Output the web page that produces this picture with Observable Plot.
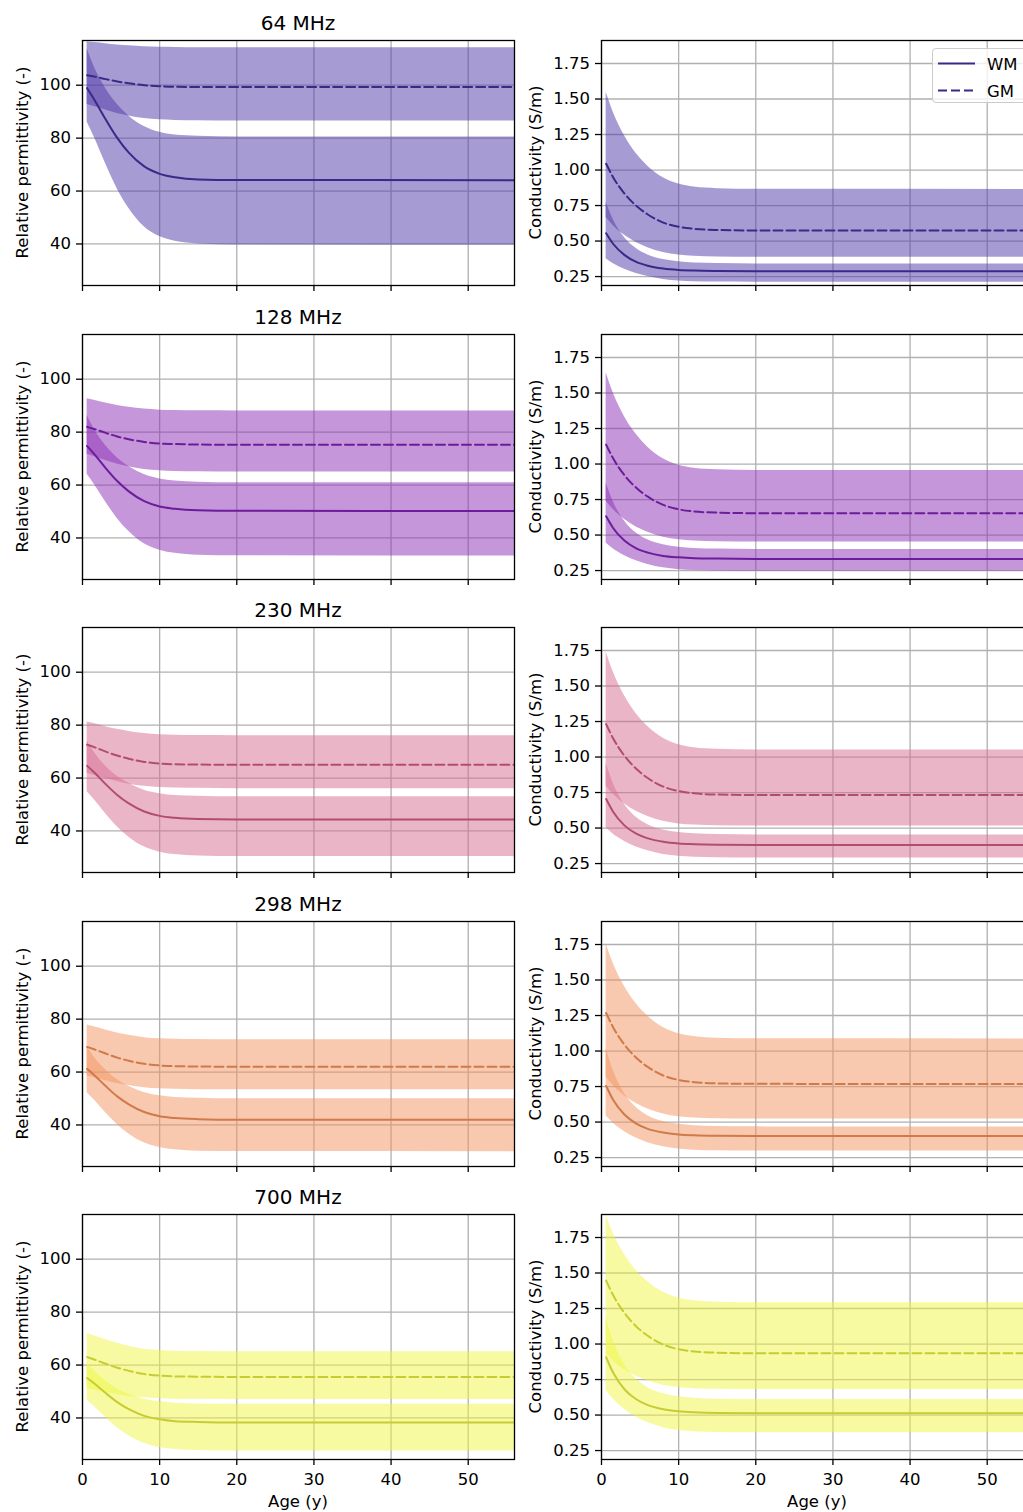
<!DOCTYPE html>
<html><head><meta charset="utf-8">
<script src="https://cdn.jsdelivr.net/npm/d3@7"></script>
<script src="https://cdn.jsdelivr.net/npm/@observablehq/plot@0.6"></script>
<style>
html,body{margin:0;padding:0;background:#fff;overflow:hidden;width:1023px;height:1512px;}
#fig{position:relative;width:1023px;height:1512px;overflow:hidden;font-family:"DejaVu Sans",sans-serif;}
.panel{position:absolute;width:526px;}
.panel svg{overflow:visible;max-width:none !important;}
#legend{position:absolute;left:932px;top:48px;width:120px;height:55px;border:1px solid #cccccc;border-radius:4px;background:rgba(255,255,255,0.8);box-sizing:border-box;}
</style></head><body><div id="fig"></div><script>
// ---------- data ----------
const ages = [0.6, 1.5, 3, 4.5, 6, 8, 10, 12, 15, 20, 56];
const freqs = ["64 MHz", "128 MHz", "230 MHz", "298 MHz", "700 MHz"];
const xTicks = [0, 10, 20, 30, 40, 50];
const permTicks = [40, 60, 80, 100];
const condTicks = [0.25, 0.5, 0.75, 1.0, 1.25, 1.5, 1.75];
const fillColors = ["#4d37a7", "#8b2db5", "#d76b91", "#f1935d", "#eff541"];
const lineColors = ["#3a2a88", "#6c1d9c", "#b24d72", "#cf7a4b", "#c8cc33"];

// Relative permittivity
const perm64WM   = [98.9, 94.7, 87.1, 80.1, 74.5, 69.3, 66.5, 65.2, 64.4, 64.2, 64.1];
const perm64WMlo = [86.1, 80.5, 70.3, 60.9, 53.5, 46.5, 42.8, 41.0, 40.0, 39.6, 39.5];
const perm64WMhi = [113.8, 107.1, 98.8, 92.8, 88.4, 84.4, 82.2, 81.2, 80.7, 80.4, 80.4];
const perm64GM   = [103.8, 103.3, 102.3, 101.4, 100.7, 100.0, 99.6, 99.4, 99.35, 99.3, 99.3];
const perm64GMlo = [92.7, 92.0, 90.6, 89.35, 88.4, 87.4, 86.9, 86.7, 86.6, 86.5, 86.5];
const perm64GMhi = [116.4, 116.1, 115.7, 115.2, 114.9, 114.5, 114.35, 114.3, 114.2, 114.2, 114.2];

const perm128WM   = [74.75, 71.8, 66.4, 61.5, 57.6, 53.9, 51.9, 51.0, 50.45, 50.25, 50.2];
const perm128WMlo = [64.1, 60.4, 53.6, 47.4, 42.5, 37.8, 35.4, 34.2, 33.5, 33.3, 33.2];
const perm128WMhi = [86.3, 81.2, 74.9, 70.3, 67.0, 64.0, 62.3, 61.5, 61.1, 60.9, 60.9];
const perm128GM   = [82.0, 81.2, 79.7, 78.35, 77.3, 76.3, 75.7, 75.5, 75.3, 75.25, 75.25];
const perm128GMlo = [71.6, 70.8, 69.3, 68.0, 66.9, 65.9, 65.4, 65.1, 65.0, 64.9, 64.9];
const perm128GMhi = [92.6, 92.05, 91.0, 90.1, 89.4, 88.7, 88.3, 88.15, 88.05, 88.0, 88.0];

const perm230WM   = [64.6, 62.2, 57.7, 53.6, 50.4, 47.35, 45.7, 44.95, 44.5, 44.35, 44.3];
const perm230WMlo = [54.8, 51.9, 46.5, 41.6, 37.65, 34.0, 32.0, 31.1, 30.55, 30.35, 30.3];
const perm230WMhi = [74.0, 69.8, 64.5, 60.7, 58.0, 55.4, 54.1, 53.4, 53.1, 52.9, 52.9];
const perm230GM   = [72.6, 71.7, 70.0, 68.5, 67.3, 66.1, 65.5, 65.2, 65.1, 65.0, 65.0];
const perm230GMlo = [61.8, 61.1, 59.8, 58.7, 57.7, 56.9, 56.4, 56.2, 56.1, 56.0, 56.0];
const perm230GMhi = [81.2, 80.6, 79.4, 78.4, 77.6, 76.8, 76.4, 76.2, 76.05, 76.0, 76.0];

const perm298WM   = [61.2, 58.9, 54.7, 50.8, 47.8, 44.9, 43.3, 42.6, 42.2, 42.0, 42.0];
const perm298WMlo = [52.2, 49.5, 44.6, 40.2, 36.6, 33.25, 31.5, 30.6, 30.1, 29.95, 29.9];
const perm298WMhi = [69.7, 65.7, 60.8, 57.2, 54.65, 52.3, 51.0, 50.4, 50.1, 49.9, 49.9];
const perm298GM   = [69.5, 68.6, 67.0, 65.45, 64.25, 63.1, 62.5, 62.2, 62.1, 62.0, 62.0];
const perm298GMlo = [58.5, 57.9, 56.7, 55.7, 54.9, 54.1, 53.7, 53.5, 53.35, 53.3, 53.3];
const perm298GMhi = [77.8, 77.1, 75.9, 74.8, 73.9, 73.0, 72.6, 72.4, 72.3, 72.2, 72.2];

const perm700WM   = [55.1, 53.1, 49.4, 46.0, 43.3, 40.8, 39.5, 38.8, 38.5, 38.3, 38.3];
const perm700WMlo = [46.7, 44.4, 40.2, 36.3, 33.3, 30.4, 28.8, 28.1, 27.7, 27.5, 27.5];
const perm700WMhi = [61.0, 57.8, 53.9, 51.05, 49.0, 47.1, 46.1, 45.6, 45.3, 45.2, 45.2];
const perm700GM   = [63.05, 62.1, 60.5, 59.0, 57.8, 56.6, 56.0, 55.7, 55.6, 55.5, 55.5];
const perm700GMlo = [51.1, 50.6, 49.7, 48.9, 48.2, 47.6, 47.3, 47.1, 47.05, 47.0, 47.0];
const perm700GMhi = [71.9, 71.1, 69.55, 68.2, 67.1, 66.0, 65.5, 65.2, 65.1, 65.0, 65.0];

// Conductivity (S/m)
const cond64WM   = [0.555, 0.481, 0.401, 0.353, 0.326, 0.306, 0.296, 0.292, 0.289, 0.287, 0.287];
const cond64WMlo = [0.375, 0.342, 0.301, 0.271, 0.250, 0.230, 0.219, 0.214, 0.211, 0.21, 0.21];
const cond64WMhi = [0.773, 0.654, 0.523, 0.447, 0.402, 0.370, 0.354, 0.346, 0.342, 0.339, 0.339];
const cond64GM   = [1.044, 0.950, 0.833, 0.748, 0.687, 0.630, 0.600, 0.586, 0.578, 0.574, 0.574];
const cond64GMlo = [0.666, 0.610, 0.540, 0.490, 0.453, 0.420, 0.401, 0.393, 0.388, 0.386, 0.386];
const cond64GMhi = [1.548, 1.411, 1.240, 1.116, 1.027, 0.945, 0.901, 0.880, 0.869, 0.864, 0.863];

const cond128WM   = [0.632, 0.550, 0.459, 0.406, 0.376, 0.353, 0.343, 0.337, 0.334, 0.332, 0.332];
const cond128WMlo = [0.444, 0.404, 0.354, 0.319, 0.293, 0.269, 0.256, 0.250, 0.247, 0.245, 0.245];
const cond128WMhi = [0.867, 0.738, 0.597, 0.514, 0.466, 0.431, 0.414, 0.406, 0.401, 0.398, 0.398];
const cond128GM   = [1.137, 1.040, 0.920, 0.833, 0.770, 0.712, 0.681, 0.666, 0.658, 0.654, 0.654];
const cond128GMlo = [0.738, 0.681, 0.609, 0.557, 0.520, 0.485, 0.467, 0.458, 0.453, 0.451, 0.451];
const cond128GMhi = [1.642, 1.504, 1.332, 1.209, 1.119, 1.037, 0.992, 0.971, 0.960, 0.955, 0.954];

const cond230WM   = [0.704, 0.615, 0.517, 0.460, 0.427, 0.403, 0.391, 0.386, 0.382, 0.38, 0.38];
const cond230WMlo = [0.500, 0.458, 0.405, 0.367, 0.340, 0.314, 0.301, 0.294, 0.291, 0.289, 0.289];
const cond230WMhi = [0.957, 0.818, 0.666, 0.576, 0.524, 0.487, 0.469, 0.460, 0.454, 0.451, 0.451];
const cond230GM   = [1.232, 1.132, 1.007, 0.917, 0.852, 0.792, 0.760, 0.745, 0.736, 0.733, 0.732];
const cond230GMlo = [0.795, 0.739, 0.669, 0.618, 0.581, 0.548, 0.529, 0.521, 0.516, 0.514, 0.514];
const cond230GMhi = [1.740, 1.602, 1.429, 1.305, 1.215, 1.132, 1.087, 1.066, 1.055, 1.050, 1.049];

const cond298WM   = [0.754, 0.657, 0.551, 0.489, 0.452, 0.426, 0.413, 0.407, 0.403, 0.401, 0.401];
const cond298WMlo = [0.543, 0.494, 0.432, 0.387, 0.355, 0.326, 0.310, 0.302, 0.298, 0.296, 0.296];
const cond298WMhi = [1.018, 0.866, 0.699, 0.602, 0.545, 0.504, 0.484, 0.474, 0.468, 0.466, 0.465];
const cond298GM   = [1.268, 1.168, 1.043, 0.953, 0.888, 0.828, 0.796, 0.781, 0.772, 0.769, 0.768];
const cond298GMlo = [0.818, 0.759, 0.684, 0.631, 0.592, 0.557, 0.537, 0.528, 0.523, 0.521, 0.521];
const cond298GMhi = [1.754, 1.620, 1.453, 1.333, 1.246, 1.165, 1.122, 1.102, 1.090, 1.086, 1.085];

const cond700WM   = [0.907, 0.799, 0.680, 0.611, 0.570, 0.541, 0.527, 0.520, 0.515, 0.513, 0.513];
const cond700WMlo = [0.673, 0.613, 0.539, 0.485, 0.447, 0.411, 0.391, 0.382, 0.377, 0.375, 0.375];
const cond700WMhi = [1.189, 1.029, 0.855, 0.753, 0.693, 0.650, 0.629, 0.619, 0.612, 0.610, 0.609];
const cond700GM   = [1.447, 1.345, 1.217, 1.124, 1.058, 0.996, 0.963, 0.948, 0.939, 0.935, 0.935];
const cond700GMlo = [0.933, 0.882, 0.819, 0.774, 0.741, 0.710, 0.694, 0.686, 0.682, 0.68, 0.68];
const cond700GMhi = [1.905, 1.782, 1.628, 1.518, 1.438, 1.364, 1.324, 1.305, 1.295, 1.291, 1.29];

const permSeries = [
  [perm64WM, perm64WMlo, perm64WMhi, perm64GM, perm64GMlo, perm64GMhi],
  [perm128WM, perm128WMlo, perm128WMhi, perm128GM, perm128GMlo, perm128GMhi],
  [perm230WM, perm230WMlo, perm230WMhi, perm230GM, perm230GMlo, perm230GMhi],
  [perm298WM, perm298WMlo, perm298WMhi, perm298GM, perm298GMlo, perm298GMhi],
  [perm700WM, perm700WMlo, perm700WMhi, perm700GM, perm700GMlo, perm700GMhi]
];
const condSeries = [
  [cond64WM, cond64WMlo, cond64WMhi, cond64GM, cond64GMlo, cond64GMhi],
  [cond128WM, cond128WMlo, cond128WMhi, cond128GM, cond128GMlo, cond128GMhi],
  [cond230WM, cond230WMlo, cond230WMhi, cond230GM, cond230GMlo, cond230GMhi],
  [cond298WM, cond298WMlo, cond298WMhi, cond298GM, cond298GMlo, cond298GMhi],
  [cond700WM, cond700WMlo, cond700WMhi, cond700GM, cond700GMlo, cond700GMhi]
];

// ---------- layout ----------
const W = 432, H = 245, mL = 82, mR = 12, mT = 40, mB = 62;
const rowTop = r => 40 + 293.5 * r;
const fig = document.getElementById("fig");

function toTable(s) {
  return ages.map((a, i) => ({age: a, wm: s[0][i], wmLo: s[1][i], wmHi: s[2][i], gm: s[3][i], gmLo: s[4][i], gmHi: s[5][i]}));
}

function makePanel(r, isCond) {
  const table = toTable(isCond ? condSeries[r] : permSeries[r]);
  const yTicks = isCond ? condTicks : permTicks;
  const bottom = r === 4;
  const fill = fillColors[r], stroke = lineColors[r];
  const grid = {stroke: "#b0b0b0", strokeOpacity: 1, strokeWidth: 1.3};
  const svg = Plot.plot({
    width: mL + W + mR, height: mT + H + mB,
    marginLeft: mL, marginRight: mR, marginTop: mT, marginBottom: mB,
    x: {domain: [0, 56]},
    y: {domain: isCond ? [0.187, 1.912] : [24.3, 116.9]},
    style: {fontFamily: "DejaVu Sans", fontSize: "16.5px", color: "#000", background: "transparent", overflow: "visible", maxWidth: "none"},
    marks: [
      Plot.gridX(xTicks, grid),
      Plot.gridY(yTicks, grid),
      Plot.areaY(table, {x: "age", y1: "wmLo", y2: "wmHi", fill, fillOpacity: 0.5, curve: "monotone-x", clip: true}),
      Plot.areaY(table, {x: "age", y1: "gmLo", y2: "gmHi", fill, fillOpacity: 0.5, curve: "monotone-x", clip: true}),
      Plot.lineY(table, {x: "age", y: "wm", stroke, strokeWidth: 2, curve: "monotone-x", clip: true}),
      Plot.lineY(table, {x: "age", y: "gm", stroke, strokeWidth: 2, strokeDasharray: "9,4", curve: "monotone-x", clip: true}),
      Plot.frame({stroke: "#000", strokeWidth: 1.3}),
      Plot.axisX(xTicks, {tickSize: 6, tickPadding: 8, strokeWidth: 1.3, tickFormat: bottom ? (d => String(d)) : (() => ""), label: null}),
      Plot.axisY(yTicks, {tickSize: 6, tickPadding: 5.5, strokeWidth: 1.3, tickFormat: isCond ? d3.format(".2f") : (d => String(d)), label: null})
    ]
  });
  svg.style.maxWidth = "none";
  const s = d3.select(svg);
  if (!isCond) {
    s.append("text").attr("x", mL + W / 2).attr("y", mT - 10)
      .attr("text-anchor", "middle").attr("font-size", 20).attr("fill", "#000").text(freqs[r]);
  }
  const lx = isCond ? mL - 59.7 : mL - 54.5;
  s.append("text").attr("transform", `translate(${lx},${mT + H / 2}) rotate(-90)`)
    .attr("text-anchor", "middle").attr("font-size", 16.5).attr("fill", "#000")
    .text(isCond ? "Conductivity (S/m)" : "Relative permittivity (-)");
  if (bottom) {
    s.append("text").attr("x", mL + W / 2).attr("y", mT + H + 48)
      .attr("text-anchor", "middle").attr("font-size", 16.5).attr("fill", "#000").text("Age (y)");
  }
  const div = document.createElement("div");
  div.className = "panel";
  div.style.left = (isCond ? 519 : 0) + "px";
  div.style.top = (rowTop(r) - mT) + "px";
  div.appendChild(svg);
  fig.appendChild(div);
}

for (let r = 0; r < 5; r++) { makePanel(r, false); makePanel(r, true); }

// legend
const leg = document.createElement("div");
leg.id = "legend";
leg.innerHTML = `<svg width="120" height="55" style="position:absolute;left:0;top:0;overflow:visible">
<line x1="5" x2="42" y1="14.5" y2="14.5" stroke="${lineColors[0]}" stroke-width="2"/>
<line x1="5" x2="42" y1="41.5" y2="41.5" stroke="${lineColors[0]}" stroke-width="2" stroke-dasharray="9,4"/>
<text x="54" y="21" font-family="DejaVu Sans" font-size="16.5" fill="#000">WM</text>
<text x="54" y="48" font-family="DejaVu Sans" font-size="16.5" fill="#000">GM</text>
</svg>`;
fig.appendChild(leg);
</script></body></html>
